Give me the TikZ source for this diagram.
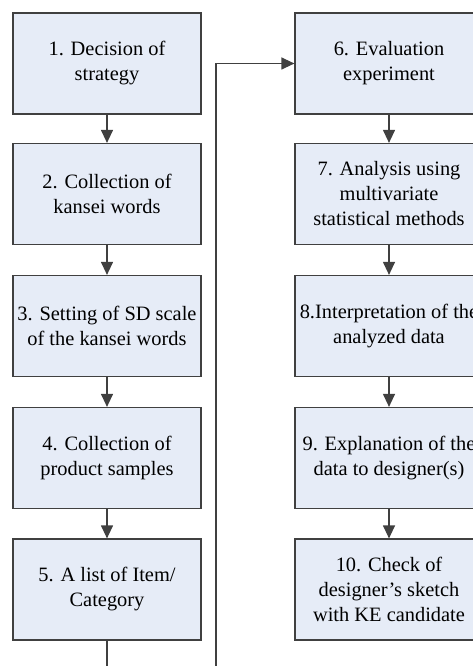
\documentclass[tikz,border=0pt]{standalone}
\usepackage{fontspec}
\setmainfont{Liberation Serif}
\usepackage{xcolor}
\usetikzlibrary{calc, arrows.meta, positioning}
\definecolor{boxfill}{HTML}{E6ECF7}
\definecolor{boxline}{HTML}{404040}
\tikzset{
    stepbox/.style={draw=boxline, fill=boxfill, line width=0.9pt, align=center,
        minimum width=141pt, minimum height=75.75pt, inner sep=0pt,
        font=\fontsize{15.3}{18.75}\selectfont},
    conn/.style={draw=boxline, line width=0.9pt, -{Triangle[width=9pt, length=9.75pt]}}
}
\newcommand{\drawS}[4]{
    \node[stepbox] (#1) at (#2,#3) {#4};
}
\newcommand{\drawC}[2]{
    \draw[conn] (#1) -- (#2);
}

\begin{document}
\begin{tikzpicture}[x=0.75pt, y=-0.75pt]
    \clip (0,0) rectangle (473,666);
    %Steps
        \drawS{s1}{107}{63.5}{1. Decision of\\strategy}
        \drawS{s2}{107}{194}{2. Collection of\\kansei words}
        \drawS{s3}{107}{326}{3. Setting of SD scale\\of the kansei words}
        \drawS{s4}{107}{458}{4. Collection of\\product samples}
        \drawS{s5}{107}{589.5}{5. A list of Item/\\Category}
        \drawS{s6}{389}{63.5}{6. Evaluation\\experiment}
        \drawS{s7}{389}{194}{7. Analysis using\\multivariate\\statistical methods}
        \drawS{s8}{389}{326}{8.Interpretation of the\\analyzed data}
        \drawS{s9}{389}{458}{9. Explanation of the\\data to designer(s)}
        \drawS{s10}{389}{589.5}{10. Check of\\designer’s sketch\\with KE candidate}

    % Arrows
        \drawC{s1}{s2}
        \drawC{s2}{s3}
        \drawC{s3}{s4}
        \drawC{s4}{s5}
        \drawC{s6}{s7}
        \drawC{s7}{s8}
        \drawC{s8}{s9}
        \drawC{s9}{s10}

    % Back to the top
        \coordinate (turn) at (216,700);
        \draw[conn] (s5.south) |- (turn) |- (s6.west);
\end{tikzpicture}
\end{document}
